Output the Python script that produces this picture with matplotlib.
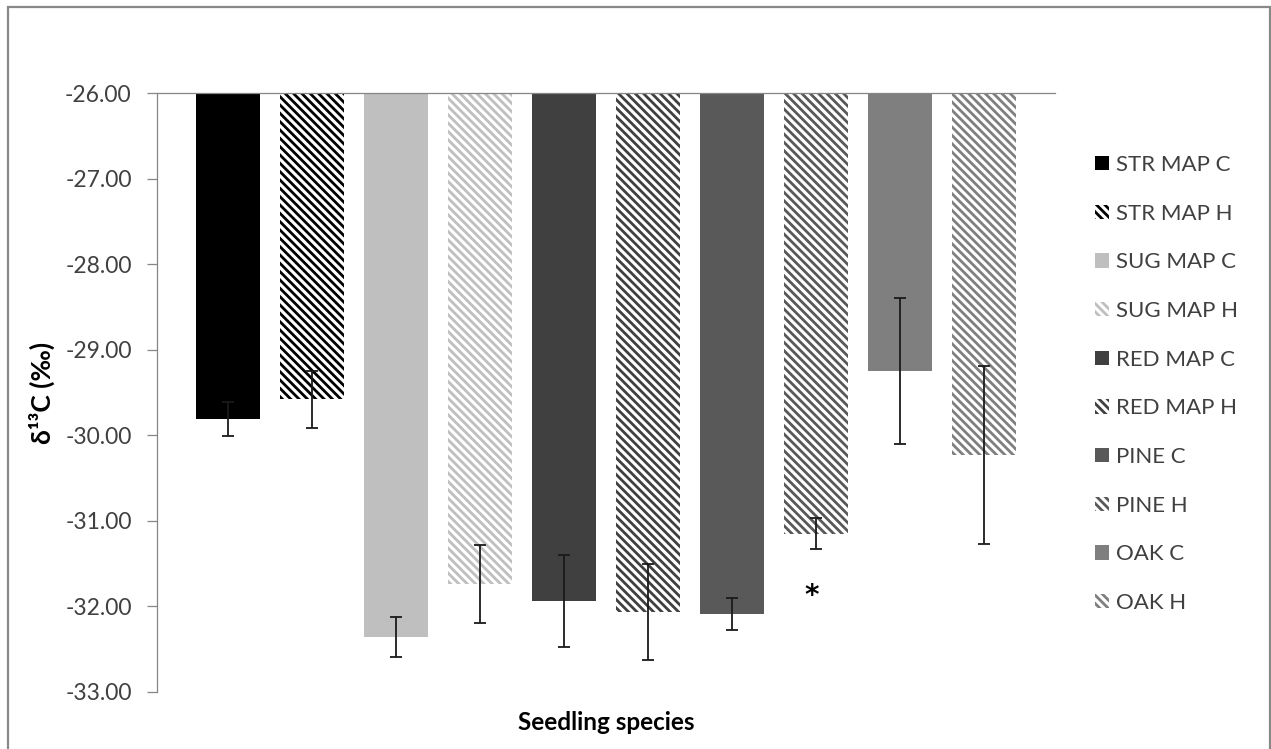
import matplotlib
matplotlib.use("Agg")
import matplotlib.pyplot as plt
from matplotlib.patches import Rectangle
import numpy as np

labels = ["STR MAP C", "STR MAP H", "SUG MAP C", "SUG MAP H", "RED MAP C",
          "RED MAP H", "PINE C", "PINE H", "OAK C", "OAK H"]
values = [-29.81, -29.58, -32.36, -31.74, -31.94, -32.07, -32.09, -31.15, -29.25, -30.23]
errors = [0.20, 0.33, 0.23, 0.46, 0.54, 0.56, 0.19, 0.18, 0.85, 1.04]
colors = ["#000000", "#000000", "#bfbfbf", "#bfbfbf", "#404040",
          "#404040", "#595959", "#595959", "#7f7f7f", "#7f7f7f"]
hatched = [False, True, False, True, False, True, False, True, False, True]
significant = [7]
yticks = [-26, -27, -28, -29, -30, -31, -32, -33]
base = -26.0

plt.rcParams['font.family'] = ['Lato', 'DejaVu Sans']
plt.rcParams['hatch.linewidth'] = 2.0

fig = plt.figure(figsize=(12.71, 7.49), dpi=100)
ax = fig.add_axes([156.7/1271, 1-691.7/749, (1055-156.7)/1271, (691.7-93.3)/749])

x = np.arange(len(values))
vals = np.array(values)
for i in range(len(values)):
    if hatched[i]:
        ax.bar(x[i], vals[i]-base, bottom=base, width=0.763, color='white',
               edgecolor=colors[i], hatch='\\\\\\\\', linewidth=0, label=labels[i])
    else:
        ax.bar(x[i], vals[i]-base, bottom=base, width=0.763, color=colors[i],
               linewidth=0, label=labels[i])

ax.errorbar(x, vals, yerr=errors, fmt='none', ecolor='#1a1a1a', elinewidth=1.3,
            capsize=4.3, capthick=1.3)

for i in significant:
    ax.text(x[i]-0.05, vals[i]-errors[i]-0.55, '*', ha='center', va='center',
            fontsize=20, fontweight='bold', family='DejaVu Sans')

ax.set_xlim(-0.855, 9.85)
ax.set_ylim(-33, -26)
ax.set_yticks(yticks)
ax.set_yticklabels([f"{t:.2f}" for t in yticks])
ax.set_xticks([])
for s in ['right', 'bottom']:
    ax.spines[s].set_visible(False)
for s in ['left', 'top']:
    ax.spines[s].set_color('#868686')
    ax.spines[s].set_linewidth(0.9)
ax.tick_params(axis='y', direction='out', length=7, width=0.9, color='#868686',
               pad=11, labelsize=16.5, labelcolor='#404040')

ax.set_ylabel('δ¹³C (‰)', fontsize=19, fontweight='bold')
ax.yaxis.set_label_coords(-0.113, 0.5)
ax.set_xlabel('Seedling species', fontsize=17.5, fontweight='bold')
ax.xaxis.set_label_coords(0.5, -0.033)

leg = ax.legend(loc='upper left', bbox_to_anchor=(1095/1271, 1-155/749),
                bbox_transform=fig.transFigure, frameon=False, fontsize=16,
                handlelength=0.63, handleheight=0.63, handletextpad=0.33,
                labelspacing=1.29, borderpad=0, borderaxespad=0)
for t in leg.get_texts():
    t.set_color('#404040')

fig.patches.append(Rectangle((8/1271, -0.02), (1270-8)/1271, 1.02-7/749,
                             transform=fig.transFigure, fill=False,
                             edgecolor='#888888', linewidth=1.6, clip_on=False))

fig.savefig('out.png', dpi=100)
